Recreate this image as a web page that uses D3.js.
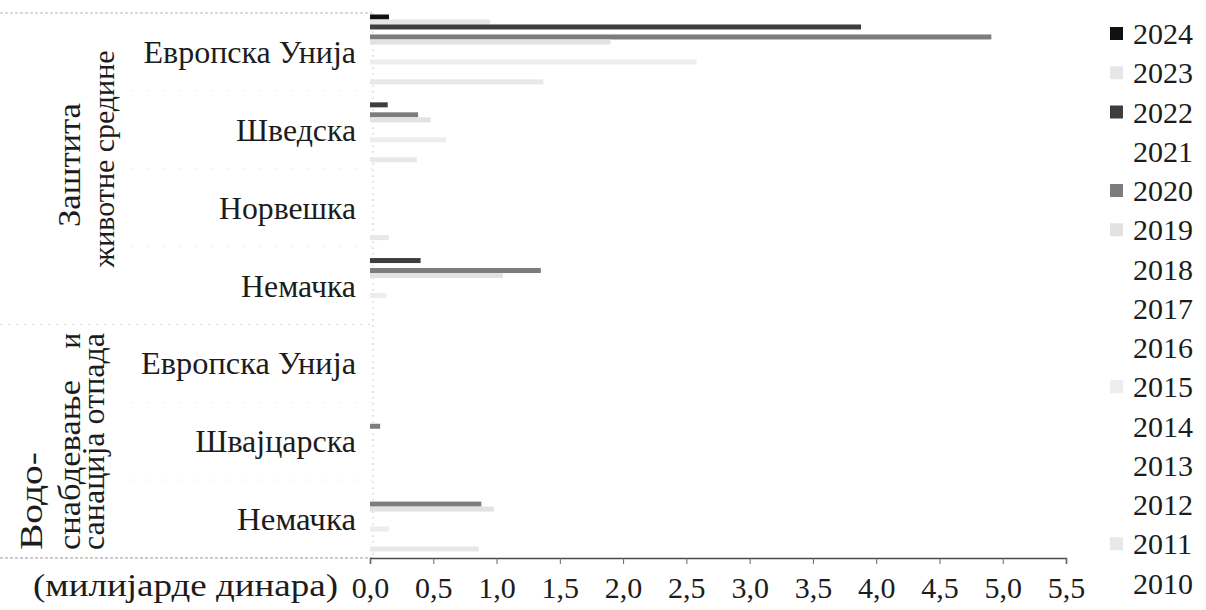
<!DOCTYPE html>
<html><head><meta charset="utf-8">
<script src="https://cdn.jsdelivr.net/npm/d3@7"></script>
<style>
body{margin:0;background:#fff}
svg text{font-family:"Liberation Serif","DejaVu Serif","Noto Serif",serif !important;fill:#1c1c1c}
</style>
</head><body>
<svg id="chart" width="1206" height="610"></svg>
<script>
// ---- data ----
const categories = ["Европска Унија","Шведска","Норвешка","Немачка","Европска Унија","Швајцарска","Немачка"];
const groupLabel1 = ["Заштита","животне средине"];
const groupLabel2 = ["Водо-","снабдевање","и","санација отпада"];
const years = ["2024","2023","2022","2021","2020","2019","2018","2017","2016","2015","2014","2013","2012","2011","2010"];
const v2024 = [0.15,0,0,0,0,0,0];
const v2023 = [0.95,0,0,0,0,0,0];
const v2022 = [3.88,0.14,0,0.40,0,0,0];
const v2021 = [0,0,0,0,0,0,0];
const v2020 = [4.91,0.38,0,1.35,0,0.08,0.88];
const v2019 = [1.90,0.48,0,1.05,0,0,0.98];
const v2018 = [0,0,0,0,0,0,0];
const v2017 = [0,0,0,0,0,0,0];
const v2016 = [0,0,0,0,0,0,0];
const v2015 = [2.58,0.60,0,0.13,0,0,0.15];
const v2014 = [0,0,0,0,0,0,0];
const v2013 = [0,0,0,0,0,0,0];
const v2012 = [0,0,0,0,0,0,0];
const v2011 = [1.37,0.37,0.15,0,0,0,0.86];
const v2010 = [0,0,0,0,0,0,0];
const xTicks = [0,0.5,1,1.5,2,2.5,3,3.5,4,4.5,5,5.5];
const axisTitle = "(милијарде динара)";

const seriesValues = [v2024,v2023,v2022,v2021,v2020,v2019,v2018,v2017,v2016,v2015,v2014,v2013,v2012,v2011,v2010];
const fills = ["#111","#e6e6e6","#3e3e3e","#fff","#7c7c7c","#e2e2e2","#fff","#fff","#fff","#ededed","#fff","#fff","#fff","#e8e8e8","#fff"];
const FONT = '"Liberation Serif","DejaVu Serif","Noto Serif",serif';

// fit font size to a target length (clamped), then stretch the glyphs for the rest
function fit(sel, target, base, lo, hi){
  sel.attr("font-size", base);
  const n = sel.node().getComputedTextLength();
  let fs = Math.max(lo, Math.min(hi, base * target / n));
  sel.attr("font-size", fs);
  const n2 = sel.node().getComputedTextLength();
  if (Math.abs(n2 - target) > 2) sel.attr("textLength", target).attr("lengthAdjust","spacingAndGlyphs");
  return sel;
}

// ---- layout ----
const svg = d3.select("#chart");
const plotTop = 13, plotBottom = 558;
const x = d3.scaleLinear().domain([0,5.5]).range([370,1066]);
const y = d3.scaleBand().domain(d3.range(categories.length)).range([plotTop,plotBottom]).padding(0);
const ySub = d3.scaleBand().domain(years).range([0,y.bandwidth()]).paddingOuter(0.3).paddingInner(0);

// label-area lines
svg.append("line").attr("x1",0).attr("x2",372).attr("y1",plotTop).attr("y2",plotTop)
  .attr("stroke","#b5b5b5").attr("stroke-width",1).attr("stroke-dasharray","3,2");
svg.append("line").attr("x1",0).attr("x2",372).attr("y1",y(4)).attr("y2",y(4))
  .attr("stroke","#d8d8d8").attr("stroke-width",1).attr("stroke-dasharray","2,6");
[1,2,3,5,6].forEach(i=>{
  svg.append("line").attr("x1",130).attr("x2",372).attr("y1",y(i)).attr("y2",y(i))
    .attr("stroke","#ebebeb").attr("stroke-width",1).attr("stroke-dasharray","2,14");
});
svg.append("line").attr("x1",0).attr("x2",372).attr("y1",plotBottom).attr("y2",plotBottom)
  .attr("stroke","#9a9a9a").attr("stroke-width",1.2).attr("stroke-dasharray","3,2");
svg.append("line").attr("x1",373).attr("x2",373).attr("y1",plotTop).attr("y2",plotBottom)
  .attr("stroke","#d0d0d0").attr("stroke-width",1).attr("stroke-dasharray","2,4");

// bars
const gBars = svg.append("g");
years.forEach((yr,si)=>{
  gBars.append("g").selectAll("rect").data(seriesValues[si]).join("rect")
    .attr("x",x(0))
    .attr("y",(d,ci)=>y(ci)+ySub(yr))
    .attr("width",d=>Math.max(0,x(d)-x(0)))
    .attr("height",ySub.bandwidth())
    .attr("fill",fills[si]);
});

// x axis
const fmt = d=>d3.format(".1f")(d).replace(".",",");
const xAxis = d3.axisBottom(x).tickValues(xTicks).tickFormat(fmt).tickSize(6).tickPadding(13);
const ax = svg.append("g").attr("transform",`translate(0,${plotBottom})`).call(xAxis)
  .attr("font-family",FONT);
ax.select(".domain").attr("stroke","#4a4a4a").attr("stroke-width",1.6);
ax.selectAll(".tick line").attr("stroke","#666");
ax.selectAll(".tick text").attr("font-size",30).attr("fill","#1c1c1c");

fit(svg.append("text").attr("x",338).attr("y",596).attr("text-anchor","end")
  .attr("font-family",FONT).text(axisTitle), 305, 31, 28, 32);

// category labels
const labelW = [213,120,137,115,215,162,119];
const catG = svg.append("g");
categories.forEach((c,i)=>{
  fit(catG.append("text").attr("x",356).attr("y",y(i)+y.bandwidth()/2+11)
    .attr("text-anchor","end").attr("font-family",FONT).text(c), labelW[i], 29, 27, 32);
});

// group labels (rotated)
function vtext(txt, bx, cy, anchor, len, hi){
  const t = svg.append("text").attr("transform",`translate(${bx},${cy}) rotate(-90)`)
    .attr("text-anchor",anchor).attr("font-family",FONT).attr("font-size",29).text(txt);
  if(len) fit(t, len, 29, 27, hi || 31);
}
vtext(groupLabel1[0], 80, 165, "middle", 124);
vtext(groupLabel1[1], 114, 159, "middle", 217);
vtext(groupLabel2[0], 42, 550, "start", 98, 31);
vtext(groupLabel2[1], 80, 550, "start", 170);
vtext(groupLabel2[2], 80, 333, "end");
vtext(groupLabel2[3], 104, 550, "start", 217);

// legend
const lg = svg.append("g").attr("font-family",FONT);
const legY = d3.scalePoint().domain(years).range([33.5,583]);
years.forEach((yr,si)=>{
  lg.append("rect").attr("x",1110).attr("y",legY(yr)-6.5).attr("width",13).attr("height",13)
    .attr("fill",fills[si]);
  lg.append("text").attr("x",1133).attr("y",legY(yr)+10.5).attr("font-size",30).text(yr);
});
</script>
</body></html>
